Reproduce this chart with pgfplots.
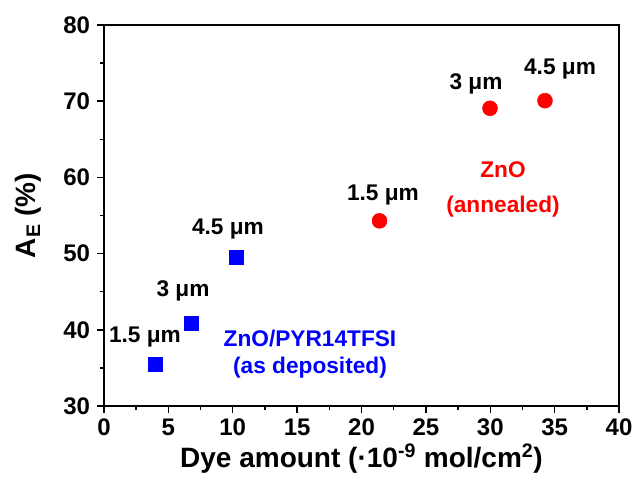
\documentclass[border=0pt]{standalone}
\usepackage{pgfplots}
\pgfplotsset{compat=1.18}
\usepackage{fontspec}
\setmainfont{Liberation Sans}
\definecolor{pblue}{RGB}{0,0,255}
\definecolor{pred}{RGB}{255,0,0}
\begin{document}
\begin{tikzpicture}
\path[use as bounding box] (-78pt,-55.5pt) rectangle (397.5pt,304.5pt);
\begin{axis}[
  anchor=south west, at={(0,0)},
  scale only axis, width=386.25pt, height=285.75pt,
  xmin=0, xmax=40, ymin=30, ymax=80,
  xtick={0,5,...,40}, ytick={30,40,...,80},
  minor x tick num=1, minor y tick num=1,
  tick pos=left, tick align=outside,
  major tick length=5pt, minor tick length=3pt,
  axis line style={line width=1.1pt},
  every tick/.style={line width=1.1pt, black},
  /pgf/number format/assume math mode=true,
  tick label style={font=\fontsize{18}{21}\selectfont\bfseries},
  xticklabel style={yshift=-1pt},
  yticklabel style={xshift=-2pt},
  xlabel={Dye amount (\textperiodcentered 10\textsuperscript{-9} mol/cm\textsuperscript{2})},
  ylabel={A\textsubscript{E} (\%)},
  label style={font=\fontsize{21}{24}\selectfont\bfseries},
  xlabel style={at={(axis description cs:0.5,0)}, anchor=base, yshift=-46pt},
  ylabel style={at={(axis description cs:0,0.5)}, anchor=base, xshift=0pt, yshift=51pt},
  clip=false,
]
\addplot[only marks, mark=square*, mark size=5.25pt, color=pblue, mark options={fill=pblue, draw=pblue}]
  coordinates {(3.96,35.5) (6.8,40.8) (10.25,49.55)};
\addplot[only marks, mark=*, mark size=5.6pt, color=pred, mark options={fill=pred, draw=pred}]
  coordinates {(21.4,54.3) (29.98,69.07) (34.25,70.07)};
\begin{scope}[every node/.style={font=\fontsize{17}{20}\selectfont\bfseries}]
\node at (axis cs:3.18,39.06) {1.5 μm};
\node at (axis cs:6.14,45.09) {3 μm};
\node at (axis cs:9.63,53.23) {4.5 μm};
\node[text=pblue] at (axis cs:16.0,38.92) {ZnO/PYR14TFSI};
\node[text=pblue] at (axis cs:16.0,34.99) {(as deposited)};
\node at (axis cs:21.67,57.69) {1.5 μm};
\node at (axis cs:28.89,72.26) {3 μm};
\node at (axis cs:35.42,74.23) {4.5 μm};
\node[text=pred] at (axis cs:30.99,60.97) {ZnO};
\node[text=pred] at (axis cs:30.99,56.12) {(annealed)};
\end{scope}
\end{axis}
\end{tikzpicture}
\end{document}
